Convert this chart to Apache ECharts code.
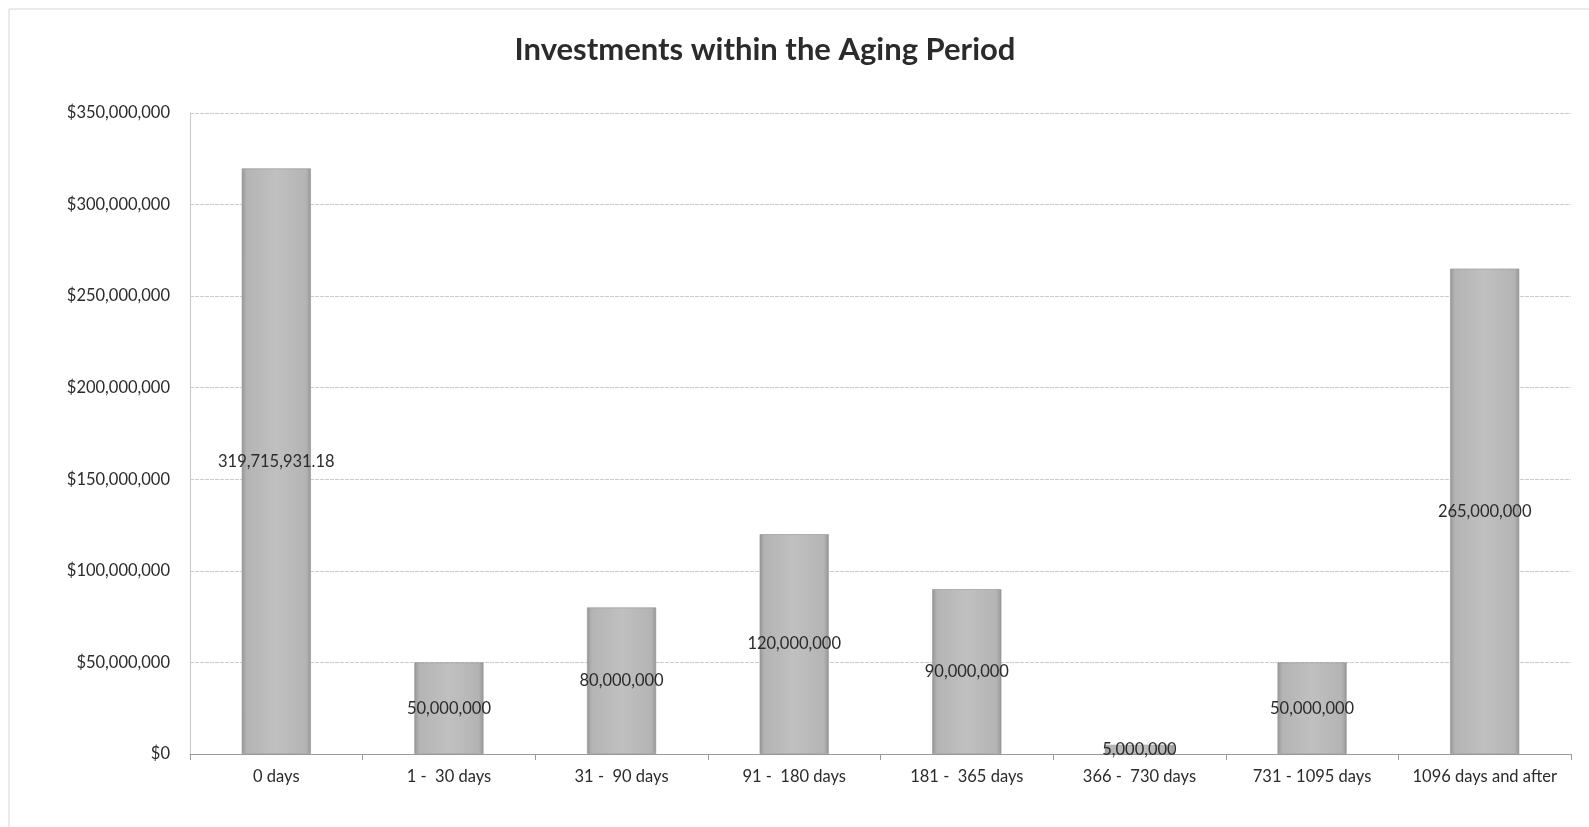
<!DOCTYPE html>
<html>
<head>
<meta charset="utf-8">
<title>Investments within the Aging Period</title>
<script src="https://cdn.jsdelivr.net/npm/echarts@6/dist/echarts.min.js"></script>
<style>
  html, body { margin: 0; padding: 0; background: #fff; }
  #chart { width: 1589px; height: 827px; }
</style>
</head>
<body>
<div id="chart"></div>
<script>
// Aging buckets and invested amounts
const categories = ['0 days', '1 -  30 days', '31 -  90 days', '91 -  180 days',
  '181 -  365 days', '366 -  730 days', '731 - 1095 days', '1096 days and after'];
const amounts = [319715931.18, 50000000, 80000000, 120000000, 90000000, 5000000, 50000000, 265000000];
const amountLabels = ['319,715,931.18', '50,000,000', '80,000,000', '120,000,000',
  '90,000,000', '5,000,000', '50,000,000', '265,000,000'];
const yTicks = { min: 0, max: 350000000, step: 50000000 };

const FONT = 'Lato, "Open Sans", sans-serif';

const chart = echarts.init(document.getElementById('chart'), null, { renderer: 'canvas' });

const barFill = new echarts.graphic.LinearGradient(0, 0, 1, 0, [
  { offset: 0, color: '#969696' },
  { offset: 0.07, color: '#b4b4b4' },
  { offset: 0.5, color: '#c0c0c0' },
  { offset: 0.93, color: '#b4b4b4' },
  { offset: 1, color: '#979797' }
]);

chart.setOption({
  animation: false,
  backgroundColor: '#ffffff',
  title: {
    text: 'Investments within the Aging Period',
    left: 760,
    top: 29,
    textAlign: 'center',
    textStyle: { fontFamily: FONT, fontWeight: 'bold', fontSize: 31, color: '#2b2b2b' }
  },
  graphic: [{
    type: 'rect',
    shape: { x: 9, y: 9, width: 1600, height: 900 },
    style: { fill: 'none', stroke: '#d4d4d4', lineWidth: 1 },
    silent: true
  }],
  grid: { left: 190, right: 18, top: 113, bottom: 73, containLabel: false },
  xAxis: {
    type: 'category',
    data: categories,
    axisLine: { show: true, lineStyle: { color: '#9a9a9a', width: 1 } },
    axisTick: { show: true, interval: 0, alignWithLabel: false, length: 6, lineStyle: { color: '#9a9a9a' } },
    axisLabel: { interval: 0, hideOverlap: false, color: '#2b2b2b', fontFamily: FONT, fontSize: 16.5, margin: 14 }
  },
  yAxis: {
    type: 'value',
    min: yTicks.min,
    max: yTicks.max,
    interval: yTicks.step,
    axisLine: { show: true, lineStyle: { color: '#c8c8c8' } },
    axisTick: { show: false },
    axisLabel: {
      color: '#2b2b2b', fontFamily: FONT, fontSize: 16.5, margin: 20,
      formatter: v => '$' + v.toLocaleString('en-US')
    },
    splitLine: { show: true, lineStyle: { color: '#cccccc', width: 1, type: [4, 1] } }
  },
  series: [{
    type: 'bar',
    data: amounts,
    barWidth: '40%',
    itemStyle: { color: barFill, borderColor: '#8f8f8f', borderWidth: 0.6 },
    label: {
      show: true,
      position: 'inside',
      color: '#2b2b2b',
      fontFamily: FONT,
      fontSize: 16.5,
      formatter: p => amountLabels[p.dataIndex]
    }
  }]
});
</script>
</body>
</html>
